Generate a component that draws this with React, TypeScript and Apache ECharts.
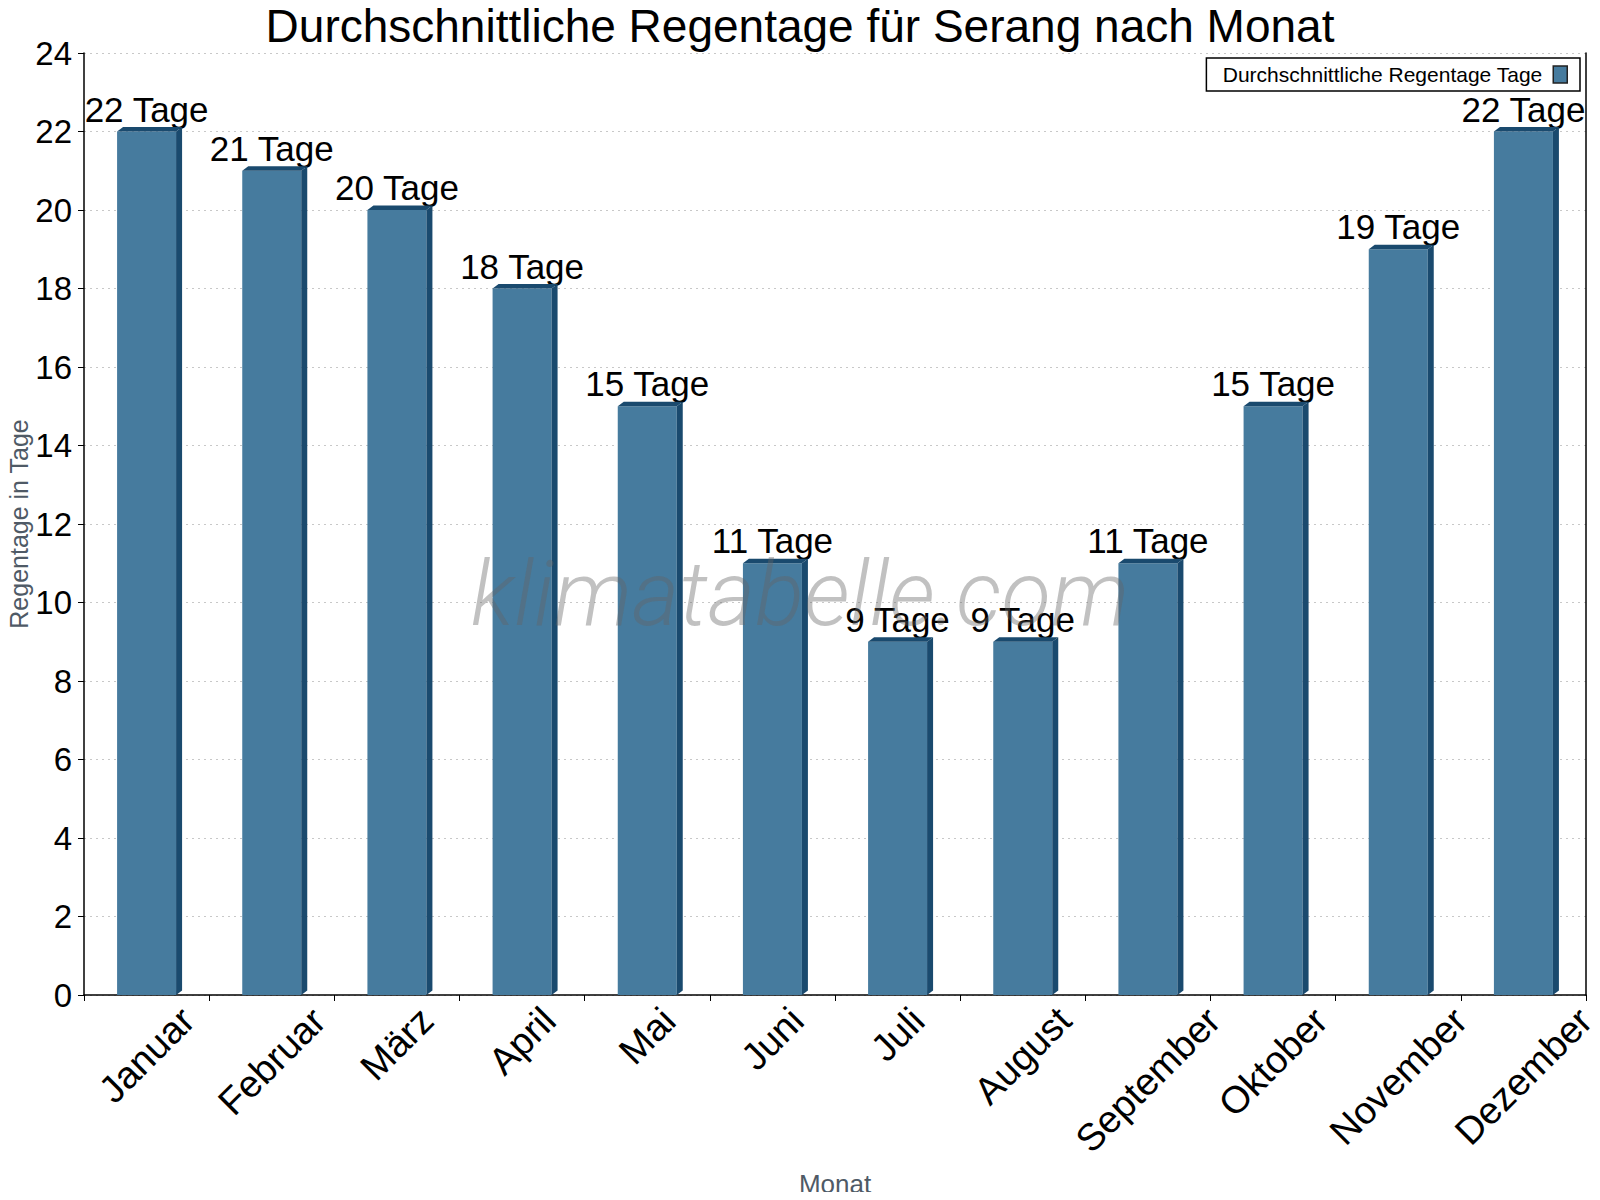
import * as echarts from "echarts";
import React, { useEffect, useRef } from "react";

const months = [
  "Januar",
  "Februar",
  "März",
  "April",
  "Mai",
  "Juni",
  "Juli",
  "August",
  "September",
  "Oktober",
  "November",
  "Dezember",
];
const rainDays = [22, 21, 20, 18, 15, 11, 9, 9, 11, 15, 19, 22];
const seriesName = "Durchschnittliche Regentage Tage";

const FONT = "Arial, 'Liberation Sans', sans-serif";
const FRONT = "#467b9e";
const DARK = "#1a4a6e";
const BAR_W = 59;
const DEPTH_X = 6;
const DEPTH_Y = 4.5;
const XLABEL_SIZE = 38;

// rotated month labels hang from the axis like the original: the box's top sits
// just under the axis, so longer names reach further down
const measure = (text: string) => {
  const ctx = document.createElement("canvas").getContext("2d");
  if (!ctx) return text.length * XLABEL_SIZE * 0.5;
  ctx.font = `${XLABEL_SIZE}px ${FONT}`;
  return ctx.measureText(text).width;
};

const App: React.FC = () => {
  const chartRef = useRef<HTMLDivElement>(null);

  useEffect(() => {
    if (!chartRef.current) return;
    const myChart = echarts.init(chartRef.current, null, { renderer: "svg" });

    const rich: Record<string, any> = {};
    months.forEach((m, i) => {
      const p = Math.round(measure(m) / 2);
      rich["m" + i] = {
        fontFamily: FONT,
        fontSize: XLABEL_SIZE,
        color: "#000",
        padding: [p, p, 0, 0],
      };
    });

    const option = {
      animation: false,
      backgroundColor: "#fff",
      title: {
        text: "Durchschnittliche Regentage für Serang nach Monat",
        left: "center",
        top: 0,
        textStyle: {
          fontFamily: FONT,
          fontSize: 46,
          lineHeight: 42,
          fontWeight: "normal",
          color: "#000",
        },
      },
      legend: {
        data: [seriesName],
        right: 20,
        top: 58,
        align: "right",
        icon: "rect",
        itemWidth: 14,
        itemHeight: 17,
        padding: [6, 12, 6, 16],
        borderColor: "#000",
        borderWidth: 1.5,
        textStyle: { fontFamily: FONT, fontSize: 21, color: "#000", padding: [0, 6, 0, 0] },
        itemStyle: { borderColor: "#222", borderWidth: 1.5 },
      },
      grid: {
        left: 84,
        right: 14,
        top: 53,
        bottom: 205,
        containLabel: false,
        outerBoundsMode: "none",
      },
      xAxis: {
        type: "category",
        data: months,
        name: "Monat",
        nameLocation: "middle",
        nameGap: 176,
        nameMoveOverlap: false,
        nameTextStyle: { fontFamily: FONT, fontSize: 26, color: "#4f5a66" },
        axisLine: { lineStyle: { color: "#000", width: 1.5 } },
        axisTick: { show: true, length: 6, lineStyle: { color: "#000" } },
        axisLabel: {
          interval: 0,
          rotate: 45,
          align: "center",
          verticalAlign: "middle",
          margin: 19,
          formatter: (v: string, i: number) => `{m${i}|${v}}`,
          rich,
        },
        splitLine: { show: false },
      },
      yAxis: [
        {
          type: "value",
          min: 0,
          max: 24,
          interval: 2,
          name: "Regentage in Tage",
          nameLocation: "middle",
          nameGap: 53,
          nameMoveOverlap: false,
          nameTextStyle: { fontFamily: FONT, fontSize: 25, color: "#4f5a66" },
          axisLine: { show: true, lineStyle: { color: "#000", width: 1.5 } },
          axisTick: { show: true, length: 6, lineStyle: { color: "#000" } },
          axisLabel: { fontFamily: FONT, fontSize: 33, color: "#000", margin: 12 },
          splitLine: { show: true, lineStyle: { color: "#c8c8c8", type: [2, 4], width: 1 } },
        },
        {
          type: "value",
          min: 0,
          max: 24,
          interval: 2,
          position: "right",
          axisLine: { show: true, lineStyle: { color: "#000", width: 1.5 } },
          axisTick: { show: false },
          axisLabel: { show: false },
          splitLine: { show: false },
        },
      ],
      series: [
        {
          name: seriesName,
          type: "bar",
          data: rainDays,
          barWidth: BAR_W,
          itemStyle: { color: FRONT },
          label: {
            show: true,
            position: "top",
            distance: 5,
            formatter: "{c} Tage",
            fontFamily: FONT,
            fontSize: 35,
            color: "#000",
          },
          z: 2,
        },
        {
          name: "depth",
          type: "custom",
          data: rainDays.map((v, i) => [i, v]),
          encode: { x: 0, y: 1 },
          z: 3,
          renderItem: (_params: any, api: any) => {
            const i = api.value(0);
            const v = api.value(1);
            const top = api.coord([i, v]);
            const base = api.coord([i, 0]);
            const x0 = top[0] - BAR_W / 2;
            const x1 = top[0] + BAR_W / 2;
            const yT = top[1];
            const yB = base[1];
            return {
              type: "group",
              children: [
                {
                  type: "polygon",
                  shape: {
                    points: [
                      [x1, yT],
                      [x1 + DEPTH_X, yT - DEPTH_Y],
                      [x1 + DEPTH_X, yB - DEPTH_Y],
                      [x1, yB],
                    ],
                  },
                  style: { fill: DARK },
                },
                {
                  type: "polygon",
                  shape: {
                    points: [
                      [x0, yT],
                      [x0 + DEPTH_X, yT - DEPTH_Y],
                      [x1 + DEPTH_X, yT - DEPTH_Y],
                      [x1, yT],
                    ],
                  },
                  style: { fill: DARK },
                },
              ],
            };
          },
        },
      ],
      graphic: [
        {
          type: "text",
          x: 800,
          y: 594,
          z: 100,
          silent: true,
          style: {
            text: "klimatabelle.com",
            fontFamily: "Roboto, 'Open Sans', sans-serif",
            fontStyle: "italic",
            fontWeight: 300,
            fontSize: 91,
            fill: "rgba(100,100,100,0.4)",
            textAlign: "center",
            textVerticalAlign: "middle",
          },
        },
      ],
    };

    myChart.setOption(option);
    return () => {
      myChart.dispose();
    };
  }, []);

  return <div ref={chartRef} style={{ width: "1600px", height: "1200px", margin: "-8px" }}></div>;
};

export default App;
